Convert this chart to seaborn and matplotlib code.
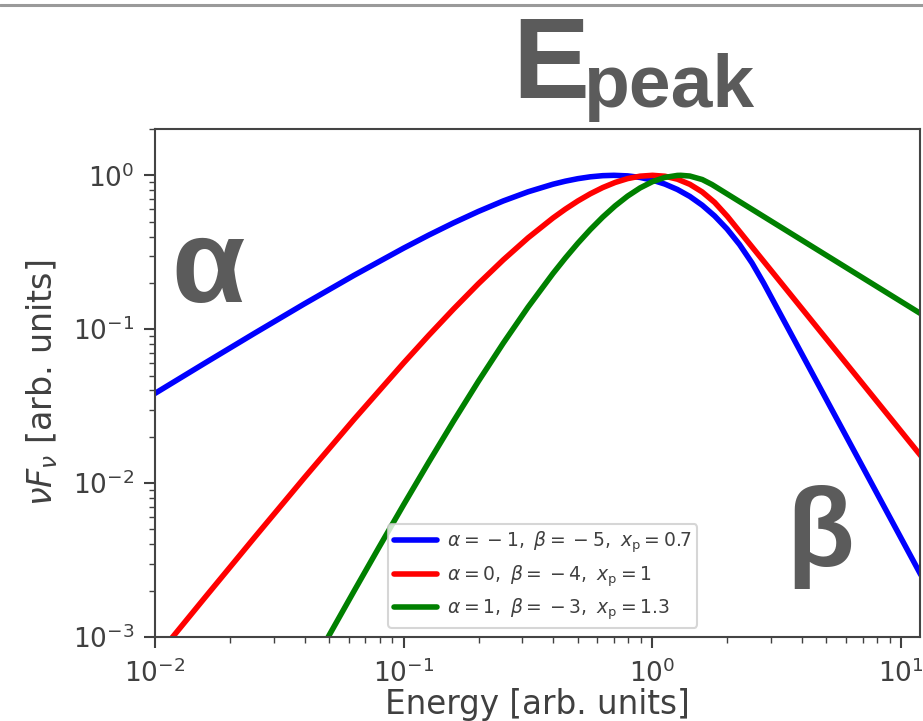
import matplotlib
matplotlib.use("Agg")
import matplotlib.pyplot as plt
import seaborn as sns
import pandas as pd

# ---- data ----
energy_blue = [0.01, 0.01585, 0.02512, 0.03981, 0.0631, 0.1, 0.1259, 0.1585, 0.1995,
               0.2512, 0.3162, 0.3981, 0.4467, 0.5012, 0.5623, 0.631, 0.7, 0.7943,
               0.8913, 1.0, 1.122, 1.259, 1.413, 1.585, 1.778, 1.995, 2.239, 2.512,
               2.8, 12.0]
nufnu_blue = [0.03828, 0.06017, 0.0941, 0.14606, 0.22389, 0.33665, 0.40847, 0.4907,
              0.58238, 0.6815, 0.78163, 0.8754, 0.91632, 0.95113, 0.97794, 0.99481,
              1.0, 0.9917, 0.96881, 0.93061, 0.8772, 0.80939, 0.72938, 0.63951,
              0.54439, 0.44796, 0.35499, 0.26966, 0.19915, 0.00253]

energy_red = [0.01, 0.01585, 0.02512, 0.03981, 0.0631, 0.1, 0.1259, 0.1585, 0.1995,
              0.2512, 0.3162, 0.3981, 0.4467, 0.5012, 0.5623, 0.631, 0.7079, 0.7943,
              0.8913, 1.0, 1.122, 1.259, 1.413, 1.585, 1.778, 2.0, 12.0]
nufnu_red = [0.000724, 0.0017985, 0.0044336, 0.010814, 0.025932, 0.060472, 0.091056,
             0.13517, 0.19737, 0.2821, 0.39264, 0.52821, 0.60344, 0.68136, 0.75865,
             0.83272, 0.89883, 0.95203, 0.98733, 1.0, 0.9863, 0.94429, 0.87439,
             0.77976, 0.66694, 0.54134, 0.015037]

energy_green = [0.03981, 0.05012, 0.0631, 0.07943, 0.1, 0.1259, 0.1585, 0.1995, 0.2512,
                0.3162, 0.3981, 0.4467, 0.5012, 0.5623, 0.631, 0.7079, 0.7943, 0.8913,
                1.0, 1.122, 1.259, 1.3, 1.413, 1.585, 1.733, 12.0]
nufnu_green = [0.000526, 0.0010253, 0.0019856, 0.0038146, 0.0072582, 0.013641, 0.02525,
               0.045825, 0.081148, 0.13933, 0.23018, 0.29059, 0.36208, 0.44405, 0.53545,
               0.63314, 0.73275, 0.82776, 0.90951, 0.9695, 0.99848, 1.0, 0.98942,
               0.93891, 0.87202, 0.12596]

series_labels = [r"$\alpha=\:-\:1,\ \beta=\:-\:5,\ x_{\rm p}=0.7$",
                 r"$\alpha=0,\ \beta=\:-\:4,\ x_{\rm p}=1$",
                 r"$\alpha=1,\ \beta=\:-\:3,\ x_{\rm p}=1.3$"]
series_colors = ["blue", "red", "green"]

xlabel_text = "Energy [arb. units]"
ylabel_text = r"$\nu F_\nu$ [arb. units]"

# ---- styling ----
sns.set_theme(style="ticks")
TXT = "#404040"
plt.rcParams.update({
    "font.family": ["DejaVu Sans"],
    "text.color": TXT,
    "axes.labelcolor": TXT,
    "xtick.color": TXT,
    "ytick.color": TXT,
    "axes.edgecolor": "#444444",
    "mathtext.fontset": "dejavusans",
})

W, H = 923, 721
fig = plt.figure(figsize=(W / 100, H / 100), dpi=100)
ax = fig.add_axes([155 / W, 84 / H, 765 / W, 508 / H])

frames = []
for e, v, lab in zip([energy_blue, energy_red, energy_green],
                     [nufnu_blue, nufnu_red, nufnu_green], series_labels):
    frames.append(pd.DataFrame({"energy": e, "nufnu": v, "series": lab}))
df = pd.concat(frames, ignore_index=True)

sns.lineplot(data=df, x="energy", y="nufnu", hue="series",
             palette=dict(zip(series_labels, series_colors)),
             linewidth=4.0, sort=False, estimator=None, ax=ax)

ax.set_xscale("log")
ax.set_yscale("log")
ax.set_xlim(0.01, 11.9)
ax.set_ylim(1e-3, 2.0)

for sp in ax.spines.values():
    sp.set_linewidth(1.5)
    sp.set_color("#444444")
ax.tick_params(which="major", length=8, width=1.5, labelsize=19, direction="out")
ax.tick_params(which="minor", length=4, width=1.0, direction="out")
ax.tick_params(axis="x", which="major", pad=8)
ax.tick_params(axis="y", which="major", pad=7)

ax.set_xlabel(xlabel_text, fontsize=23.5, labelpad=0)
ax.set_ylabel(ylabel_text, fontsize=24, labelpad=9)

leg = ax.legend(loc="lower left", bbox_to_anchor=(0.3046, 0.0177),
                borderaxespad=0, fontsize=13.5, frameon=True, fancybox=True,
                handlelength=2.3, handletextpad=0.5, labelspacing=0.42,
                borderpad=0.32)
leg.get_frame().set_edgecolor("#cccccc")
leg.get_frame().set_linewidth(1.5)
for line in leg.get_lines():
    line.set_linewidth(4.0)

# decorative annotation text
GRAY = "#5b5b5b"
fig.text(512 / W, (H - 98) / H, "E", fontsize=83, fontweight="bold",
         family="Liberation Sans", color=GRAY, va="baseline", ha="left")
fig.text(583 / W, (H - 107) / H, "peak", fontsize=54, fontweight="bold",
         family="Liberation Sans", color=GRAY, va="baseline", ha="left")
fig.text(171 / W, (H - 302) / H, "α", fontsize=86, fontweight="bold",
         family="Liberation Sans", color=GRAY, va="baseline", ha="left")
fig.text(786 / W, (H - 566) / H, "β", fontsize=80, fontweight="bold",
         family="Liberation Sans", color=GRAY, va="baseline", ha="left")

# thin gray rule at the very top
fig.add_artist(plt.Line2D([0, 1], [(H - 5) / H, (H - 5) / H], color="#9a9a9a",
                          linewidth=2.2, transform=fig.transFigure))

fig.savefig("out.png", dpi=100)
